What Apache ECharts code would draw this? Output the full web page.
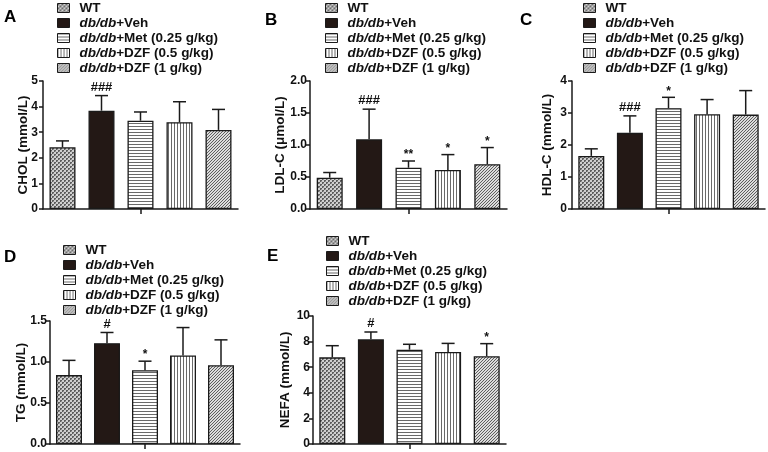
<!DOCTYPE html>
<html>
<head>
<meta charset="utf-8">
<style>html,body{margin:0;padding:0;background:#fff;}#c{width:768px;height:452px;}</style>
<script src="https://cdn.jsdelivr.net/npm/echarts@6/dist/echarts.min.js"></script>
</head>
<body>
<div id="c"></div>
<script>
// ---- data ----
const groups = ['WT', 'db/db+Veh', 'db/db+Met (0.25 g/kg)', 'db/db+DZF (0.5 g/kg)', 'db/db+DZF (1 g/kg)'];
const panelLetters = ['A', 'B', 'C', 'D', 'E'];
const yNames = ['CHOL (mmol/L)', 'LDL-C (μmol/L)', 'HDL-C (mmol/L)', 'TG (mmol/L)', 'NEFA (mmol/L)'];

const cholMean = [2.41, 3.84, 3.45, 3.39, 3.09];
const cholErr  = [0.25, 0.59, 0.34, 0.80, 0.80];
const cholSig  = ['', '###', '', '', ''];

const ldlMean = [0.49, 1.09, 0.645, 0.61, 0.70];
const ldlErr  = [0.08, 0.47, 0.105, 0.24, 0.26];
const ldlSig  = ['', '###', '**', '*', '*'];

const hdlMean = [1.66, 2.38, 3.15, 2.96, 2.95];
const hdlErr  = [0.22, 0.53, 0.34, 0.46, 0.75];
const hdlSig  = ['', '###', '*', '', ''];

const tgMean = [0.84, 1.23, 0.90, 1.08, 0.96];
const tgErr  = [0.18, 0.13, 0.11, 0.34, 0.31];
const tgSig  = ['', '#', '*', '', ''];

const nefaMean = [6.77, 8.18, 7.37, 7.19, 6.85];
const nefaErr  = [0.91, 0.57, 0.42, 0.67, 0.99];
const nefaSig  = ['', '#', '', '', '*'];

const yMax = [5, 2, 4, 1.5, 10];
const yInterval = [1, 0.5, 1, 0.5, 2];
const yDecimals = [0, 1, 0, 1, 0];

const means = [cholMean, ldlMean, hdlMean, tgMean, nefaMean];
const errs = [cholErr, ldlErr, hdlErr, tgErr, nefaErr];
const sigs = [cholSig, ldlSig, hdlSig, tgSig, nefaSig];

// ---- layout (styles) ----
const grids = [
  {left: 43, top: 81, width: 195, height: 128},
  {left: 310, top: 81, width: 197, height: 128},
  {left: 572, top: 81, width: 193, height: 128},
  {left: 50, top: 321, width: 190, height: 123},
  {left: 313, top: 316, width: 193, height: 128}
];
const nameGaps = [13, 23, 18, 22, 21];
const labelMargins = [5, 3, 5, 3, 3];
const legendPos = [
  {left: 57, top: 1}, {left: 325, top: 1}, {left: 583, top: 1},
  {left: 63, top: 243}, {left: 326, top: 234}
];
const letterPos = [[4, 9], [265, 12], [520, 12], [4, 249], [267, 248]];

// ---- patterns ----
function mkCanvas(w, h, draw) {
  const c = document.createElement('canvas');
  c.width = w; c.height = h;
  const ctx = c.getContext('2d');
  draw(ctx);
  return {image: c, repeat: 'repeat'};
}
const patWT = mkCanvas(4, 4, ctx => {
  ctx.fillStyle = '#d0d0d0'; ctx.fillRect(0, 0, 4, 4);
  ctx.fillStyle = '#5e5e5e'; ctx.fillRect(0, 0, 2, 2); ctx.fillRect(2, 2, 2, 2);
  ctx.fillStyle = '#9a9a9a'; ctx.fillRect(1, 1, 1, 1); ctx.fillRect(3, 3, 1, 1);
});
const patMet = mkCanvas(4, 3, ctx => {
  ctx.fillStyle = '#ffffff'; ctx.fillRect(0, 0, 4, 3);
  ctx.fillStyle = '#6a6a6a'; ctx.fillRect(0, 0, 4, 1);
});
const patDZF05 = mkCanvas(3, 4, ctx => {
  ctx.fillStyle = '#ffffff'; ctx.fillRect(0, 0, 3, 4);
  ctx.fillStyle = '#6a6a6a'; ctx.fillRect(0, 0, 1, 4);
});
const patDZF1 = mkCanvas(3, 3, ctx => {
  ctx.fillStyle = '#dcdcdc'; ctx.fillRect(0, 0, 3, 3);
  ctx.fillStyle = '#5e5e5e';
  ctx.fillRect(2, 0, 1, 1); ctx.fillRect(1, 1, 1, 1); ctx.fillRect(0, 2, 1, 1);
});
const fills = [patWT, '#231815', patMet, patDZF05, patDZF1];

const FONT = 'Arial, "Liberation Sans", sans-serif';
const TXT = '#111';
const AX = '#1a1a1a';

const option = {
  animation: false,
  backgroundColor: '#fff',
  grid: grids.map(g => Object.assign({containLabel: false}, g)),
  xAxis: grids.map((g, p) => ({
    type: 'category', gridIndex: p, data: groups,
    axisLine: {lineStyle: {color: AX, width: 1.5}},
    axisTick: {show: true, alignWithLabel: true, length: 5, interval: (i) => i === 2, lineStyle: {color: AX, width: 1.5}},
    axisLabel: {show: false}
  })),
  yAxis: grids.map((g, p) => ({
    type: 'value', gridIndex: p, min: 0, max: yMax[p], interval: yInterval[p],
    name: yNames[p], nameLocation: 'middle', nameRotate: 90, nameGap: nameGaps[p],
    nameMoveOverlap: false,
    nameTextStyle: {fontFamily: FONT, fontWeight: 'bold', fontSize: 13.5, color: TXT},
    axisLine: {show: true, lineStyle: {color: AX, width: 1.5}},
    axisTick: {show: true, length: 4, lineStyle: {color: AX, width: 1.5}},
    splitLine: {show: false},
    axisLabel: {fontFamily: FONT, fontWeight: 'bold', fontSize: 12, color: TXT, margin: labelMargins[p],
      formatter: v => v.toFixed(yDecimals[p])}
  })),
  legend: legendPos.map(lp => ({
    left: lp.left, top: lp.top, orient: 'vertical', data: groups,
    icon: 'rect', itemWidth: 12, itemHeight: 9, itemGap: 1, padding: 0,
    selectedMode: false,
    itemStyle: {borderColor: AX, borderWidth: 1},
    textStyle: {fontFamily: FONT, fontWeight: 'bold', fontSize: 13.5, color: TXT, padding: [0, 0, 0, 5],
      rich: {i: {fontFamily: FONT, fontWeight: 'bold', fontStyle: 'italic', fontSize: 13.5, color: TXT}}},
    formatter: name => name.replace('db/db', '{i|db/db}')
  })),
  graphic: panelLetters.map((L, p) => ({
    type: 'text', left: letterPos[p][0], top: letterPos[p][1],
    style: {text: L, font: 'bold 17px ' + FONT, fill: '#000'}
  })),
  series: []
};

for (let p = 0; p < 5; p++) {
  groups.forEach((gname, g) => {
    option.series.push({
      type: 'bar', name: gname, xAxisIndex: p, yAxisIndex: p,
      data: means[p].map((v, i) => (i === g ? v : '-')),
      barWidth: 26, barGap: '-100%',
      itemStyle: {color: fills[g], borderColor: AX, borderWidth: 1.3},
      silent: true
    });
  });
  const sigArr = sigs[p];
  option.series.push({
    type: 'custom', xAxisIndex: p, yAxisIndex: p, z: 10, silent: true,
    data: means[p].map((m, i) => [i, m, errs[p][i]]),
    renderItem: (params, api) => {
      const x = api.value(0), m = api.value(1), e = api.value(2);
      const p0 = api.coord([x, m]);
      const p1 = api.coord([x, m + e]);
      const hw = 6.5;
      const children = [
        {type: 'line', shape: {x1: p0[0], y1: p0[1], x2: p1[0], y2: p1[1]}, style: {stroke: AX, lineWidth: 1.5}},
        {type: 'line', shape: {x1: p1[0] - hw, y1: p1[1], x2: p1[0] + hw, y2: p1[1]}, style: {stroke: AX, lineWidth: 1.5}}
      ];
      const s = sigArr[params.dataIndex];
      if (s) {
        const isStar = s.indexOf('*') >= 0;
        children.push({type: 'text', x: p1[0], y: p1[1] - (isStar ? 0 : 2),
          style: {text: s, fill: TXT, font: 'bold ' + (isStar ? 12 : 13) + 'px ' + FONT, textAlign: 'center', textVerticalAlign: 'bottom'}});
      }
      return {type: 'group', children};
    }
  });
}

const chart = echarts.init(document.getElementById('c'), null, {renderer: 'canvas'});
chart.setOption(option);
</script>
</body>
</html>
